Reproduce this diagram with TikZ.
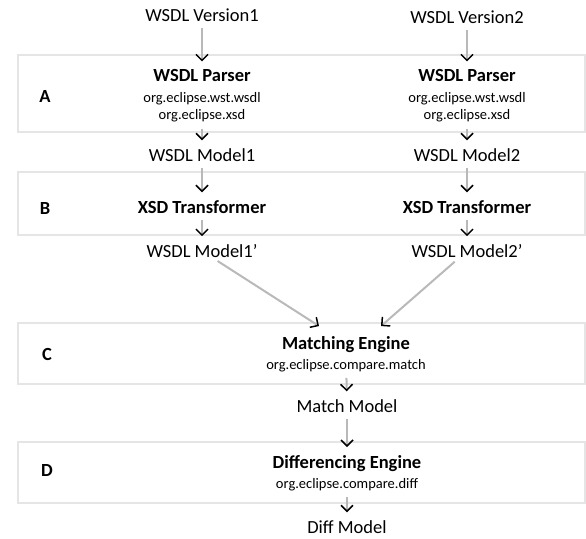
\documentclass[tikz,border=0pt]{standalone}
\usepackage{fontspec}
\setmainfont{Carlito}
\usetikzlibrary{arrows.meta,calc}

\begin{document}
\begin{tikzpicture}[x=1pt, y=-1pt,
	every node/.style={inner sep=0pt, font=\fontsize{18.5}{22}\selectfont},
	layerbox/.style={draw=gray!20, line width=2pt, minimum width=567pt, minimum height=#1},
	letter/.style={font=\fontsize{18.5}{22}\selectfont\bfseries},
	stage/.style={align=center, font=\fontsize{14.5}{17}\selectfont},
	flow/.style={draw=gray!55, line width=2pt, -{Straight Barb[black, length=6pt, width=12pt, line width=1.5pt]}, shorten <=6pt, shorten >=8pt}]
		\useasboundingbox (0,0) rectangle (586,538);
		
		% layers
		\node[layerbox=77pt] (boxA) at (301.5,93.5) {};
		\node[layerbox=63pt] (boxB) at (301.5,203.5) {};
		\node[layerbox=61pt] (boxC) at (301.5,353.5) {};
		\node[layerbox=61pt] (boxD) at (301.5,472.5) {};
		
		\node[letter] (lA) at (45,97) {A};
		\node[letter] (lB) at (45,208) {B};
		\node[letter] (lC) at (47,354) {C};
		\node[letter] (lD) at (47,470) {D};
		
		% first version
		\node (v1) at (202,15) {WSDL Version1};
		\node[stage] (p1) at (202,96) {{\fontsize{18.5}{22}\selectfont\bfseries WSDL Parser}\\[4pt]org.eclipse.wst.wsdl\\org.eclipse.xsd};
		\node (m1) at (202,155) {WSDL Model1};
		\node[letter] (t1) at (202,207) {XSD Transformer};
		\node (n1) at (202,251) {WSDL Model1'};
		
		% second version
		\node (v2) at (467,17) {WSDL Version2};
		\node[stage] (p2) at (467,96) {{\fontsize{18.5}{22}\selectfont\bfseries WSDL Parser}\\[4pt]org.eclipse.wst.wsdl\\org.eclipse.xsd};
		\node (m2) at (467,155) {WSDL Model2};
		\node[letter] (t2) at (467,207) {XSD Transformer};
		\node (n2) at (467,251) {WSDL Model2'};
		
		% compare
		\node[stage] (me) at (346,354) {{\fontsize{18.5}{22}\selectfont\bfseries Matching Engine}\\[3pt]org.eclipse.compare.match};
		\node (mm) at (347,406) {Match Model};
		\node[stage] (de) at (347,473) {{\fontsize{18.5}{22}\selectfont\bfseries Differencing Engine}\\[3pt]org.eclipse.compare.diff};
		\node (dm) at (347,527) {Diff Model};
		
		\draw[flow] (v1) -- (p1);
		\draw[flow] (p1) -- (m1);
		\draw[flow] (m1) -- (t1);
		\draw[flow] (t1) -- (n1);
		\draw[flow] (v2) -- (p2);
		\draw[flow] (p2) -- (m2);
		\draw[flow] (m2) -- (t2);
		\draw[flow] (t2) -- (n2);
		
		\draw[flow, shorten >=0pt] (n1) -- ([xshift=-27pt, yshift=10pt]me.north);
		\draw[flow, shorten >=0pt] (n2) -- ([xshift=35pt, yshift=10pt]me.north);
		\draw[flow] (me) -- (mm);
		\draw[flow] (mm) -- (de);
		\draw[flow] (de) -- (dm);
\end{tikzpicture}
\end{document}
